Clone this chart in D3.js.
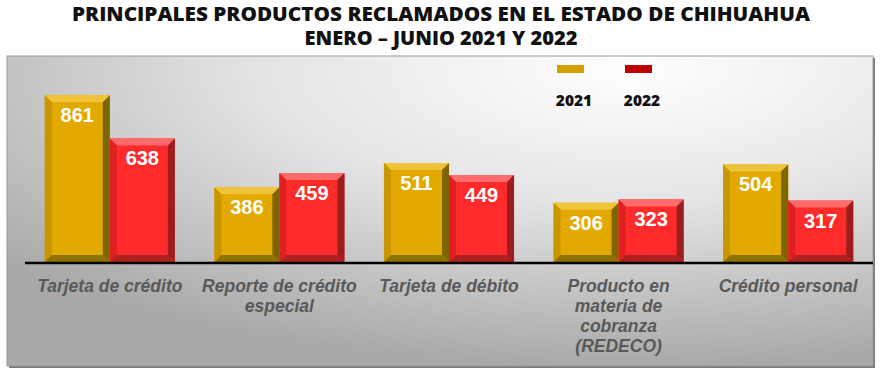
<!DOCTYPE html>
<html><head><meta charset="utf-8">
<script src="https://cdn.jsdelivr.net/npm/d3@7"></script>
<style>body{margin:0;background:#fff}svg{display:block}</style>
</head><body>
<script>
const categories = [
  ["Tarjeta de crédito"],
  ["Reporte de crédito", "especial"],
  ["Tarjeta de débito"],
  ["Producto en", "materia de", "cobranza", "(REDECO)"],
  ["Crédito personal"]
];
const seriesNames = ["2021", "2022"];
const values2021 = [861, 386, 511, 306, 504];
const values2022 = [638, 459, 449, 323, 317];
const titleLines = ["PRINCIPALES PRODUCTOS RECLAMADOS EN EL ESTADO DE CHIHUAHUA", "ENERO – JUNIO 2021 Y 2022"];

const W = 882, H = 377;
const svg = d3.select("body").append("svg").attr("width", W).attr("height", H);
const defs = svg.append("defs");

const bg = defs.append("radialGradient").attr("id", "bg")
  .attr("cx", "0.72").attr("cy", "0.05").attr("r", "0.95").attr("fx","0.72").attr("fy","0.05");
bg.append("stop").attr("offset", "0").attr("stop-color", "#ffffff");
bg.append("stop").attr("offset", "0.45").attr("stop-color", "#e4e4e4");
bg.append("stop").attr("offset", "1").attr("stop-color", "#a9a9a9");

// panel
svg.append("rect").attr("x", 9).attr("y", 58).attr("width", 866).attr("height", 310).attr("fill", "#7a7a7a");
svg.append("rect").attr("x", 7).attr("y", 56).attr("width", 866).attr("height", 310).attr("fill", "url(#bg)")
  .attr("stroke", "#9a9a9a").attr("stroke-width", 1);

// title
const title = svg.append("g");
titleLines.forEach((t, i) => {
  title.append("text").attr("x", 441).attr("y", 21 + i * 24).attr("text-anchor", "middle")
    .attr("font-family", "Open Sans, sans-serif").attr("font-weight", 800).attr("font-size", 19)
    .attr("fill", "#111").attr("textLength", i === 0 ? 738 : 273).attr("lengthAdjust", "spacingAndGlyphs")
    .text(t);
});

const x0 = d3.scaleBand().domain(d3.range(categories.length)).range([25, 873])
  .paddingInner(0.233).paddingOuter(0.1165);
const x1 = d3.scaleBand().domain(seriesNames).range([0, x0.bandwidth()]);
const y = d3.scaleLinear().domain([0, 1000]).range([262, 68.3]);

const palette = {
  "2021": {face: "#e2aa00", top: "#f0c43a", left: "#c89600", right: "#7d6500", bottom: "#8e7200", legend: "#d4a000"},
  "2022": {face: "#ff2b2b", top: "#ff6a6a", left: "#e02020", right: "#9c1d1d", bottom: "#b02222", legend: "#c00000"}
};

const data = [];
values2021.forEach((v, i) => data.push({c: i, s: "2021", v}));
values2022.forEach((v, i) => data.push({c: i, s: "2022", v}));

const b = 7;
const bars = svg.append("g").selectAll("g").data(data).join("g");
bars.each(function(d) {
  const g = d3.select(this);
  const xl = x0(d.c) + x1(d.s), xr = xl + x1.bandwidth();
  const yt = y(d.v), yb = y(0);
  const p = palette[d.s];
  g.append("rect").attr("x", xl).attr("y", yt).attr("width", xr - xl).attr("height", yb - yt).attr("fill", p.face);
  const poly = (pts, c) => g.append("polygon").attr("points", pts.map(q => q.join(",")).join(" ")).attr("fill", c);
  poly([[xl, yt], [xr, yt], [xr - b, yt + b], [xl + b, yt + b]], p.top);
  poly([[xl, yt], [xl + b, yt + b], [xl + b, yb - b], [xl, yb]], p.left);
  poly([[xr, yt], [xr, yb], [xr - b, yb - b], [xr - b, yt + b]], p.right);
  poly([[xl, yb], [xl + b, yb - b], [xr - b, yb - b], [xr, yb]], p.bottom);
  g.append("text").attr("x", (xl + xr) / 2).attr("y", yt + 27).attr("text-anchor", "middle")
    .attr("font-family", "Liberation Sans, Arial, sans-serif").attr("font-weight", "bold").attr("font-size", 20)
    .attr("fill", "#fff").text(d.v);
});

// axis line
svg.append("line").attr("x1", 25).attr("x2", 873).attr("y1", y(0) + 1).attr("y2", y(0) + 1)
  .attr("stroke", "#000").attr("stroke-width", 2.5);

// category labels
categories.forEach((lines, i) => {
  const cx = x0(i) + x0.bandwidth() / 2;
  const t = svg.append("text").attr("text-anchor", "middle")
    .attr("font-family", "Liberation Sans, Arial, sans-serif").attr("font-weight", "bold").attr("font-style", "italic")
    .attr("font-size", 17.5).attr("fill", "#595959");
  lines.forEach((l, j) => t.append("tspan").attr("x", cx).attr("y", 292 + j * 20).text(l));
});

// legend
const lx = d3.scaleOrdinal().domain(seriesNames).range([557, 625]);
seriesNames.forEach(s => {
  svg.append("rect").attr("x", lx(s)).attr("y", 65).attr("width", 27).attr("height", 8).attr("fill", palette[s].legend);
  svg.append("text").attr("x", lx(s) + 17).attr("y", 106).attr("text-anchor", "middle")
    .attr("font-family", "Open Sans, sans-serif").attr("font-weight", 800).attr("font-size", 15.5)
    .attr("fill", "#111").text(s);
});
</script>
</body></html>
